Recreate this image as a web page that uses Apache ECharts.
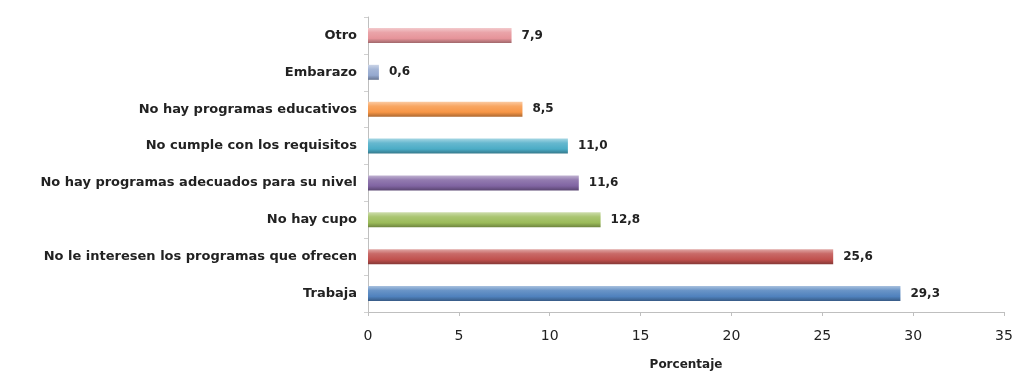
<!DOCTYPE html>
<html>
<head>
<meta charset="utf-8">
<script src="https://cdn.jsdelivr.net/npm/echarts@6/dist/echarts.min.js"></script>
<style>
html,body{margin:0;padding:0;background:#fff;}
#chart{width:1019px;height:374px;}
</style>
</head>
<body>
<div id="chart"></div>
<script>
var categories = ['Trabaja','No le interesen los programas que ofrecen','No hay cupo','No hay programas adecuados para su nivel','No cumple con los requisitos','No hay programas educativos','Embarazo','Otro'];
var values = [29.3, 25.6, 12.8, 11.6, 11.0, 8.5, 0.6, 7.9];
var barColors = ['#4f81bd','#c0504d','#9bbb59','#8064a2','#4bacc6','#f79646','#95a9cf','#e6949a'];
var xTicks = [0,5,10,15,20,25,30,35];

function mix(hex, target, t){
  var r=parseInt(hex.substr(1,2),16), g=parseInt(hex.substr(3,2),16), b=parseInt(hex.substr(5,2),16);
  r=Math.round(r+(target-r)*t); g=Math.round(g+(target-g)*t); b=Math.round(b+(target-b)*t);
  return 'rgb('+r+','+g+','+b+')';
}
function grad(c){
  return new echarts.graphic.LinearGradient(0,0,0,1,[
    {offset:0, color:mix(c,255,0.5)},
    {offset:0.3, color:mix(c,255,0.15)},
    {offset:0.7, color:c},
    {offset:1, color:mix(c,0,0.3)}
  ]);
}
var font = 'DejaVu Sans';
var chart = echarts.init(document.getElementById('chart'), null, {renderer:'canvas'});
chart.setOption({
  animation:false,
  backgroundColor:'#fff',
  grid:{left:368, right:15, top:17, bottom:62, containLabel:false, outerBoundsMode:'none'},
  xAxis:{
    type:'value', min:0, max:35, interval:5,
    axisLine:{show:true, lineStyle:{color:'#bfbfbf'}},
    axisTick:{show:true, length:4, lineStyle:{color:'#bfbfbf'}},
    splitLine:{show:false},
    axisLabel:{color:'#222', fontFamily:font, fontSize:14, margin:17,
      formatter:function(v){return xTicks.indexOf(v)>=0?String(v):'';}},
    name:'Porcentaje', nameLocation:'middle', nameGap:47,
    nameTextStyle:{color:'#222', fontFamily:font, fontSize:12, fontWeight:'bold'}
  },
  yAxis:{
    type:'category', data:categories,
    axisLine:{show:true, lineStyle:{color:'#bfbfbf'}},
    axisTick:{show:true, length:4, lineStyle:{color:'#d0d0d0'}},
    axisLabel:{color:'#222', fontFamily:font, fontSize:13, fontWeight:'bold', margin:11}
  },
  series:[{
    type:'bar', barWidth:15,
    data: values.map(function(v,i){return {value:v, itemStyle:{color:grad(barColors[i])}};}),
    label:{show:true, position:'right', distance:10, color:'#222', fontFamily:font, fontSize:12, fontWeight:'bold',
      formatter:function(p){return p.value.toFixed(1).replace('.',',');}}
  }]
});
</script>
</body>
</html>
